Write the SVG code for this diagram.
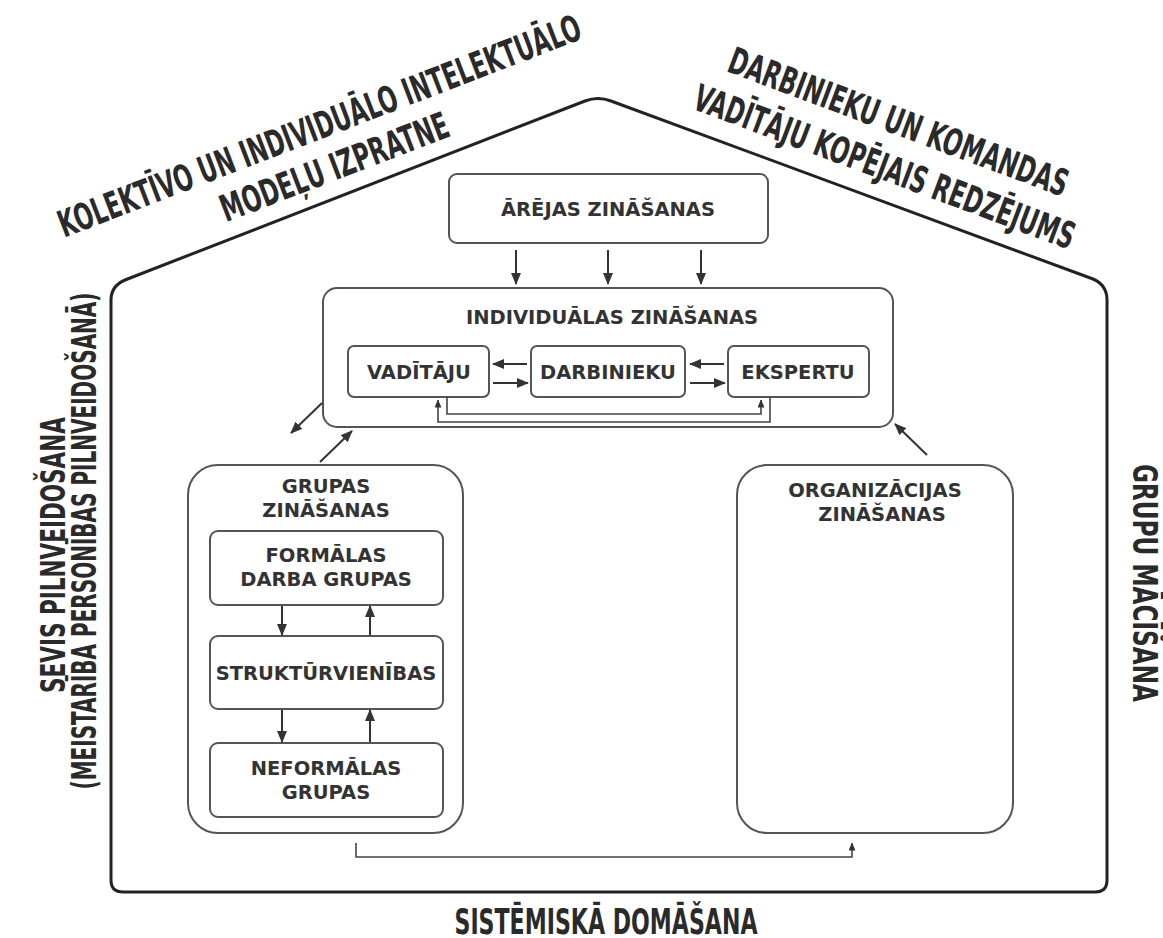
<svg xmlns="http://www.w3.org/2000/svg" width="1163" height="938" viewBox="0 0 1163 938">
<defs>
<marker id="ah" markerWidth="12" markerHeight="10" refX="11" refY="5" orient="auto" markerUnits="userSpaceOnUse"><path d="M0,0 L12,5 L0,10 Z" fill="#333"/></marker>
<marker id="ahs" markerWidth="8" markerHeight="7" refX="7.5" refY="3.5" orient="auto" markerUnits="userSpaceOnUse"><path d="M0,0 L8,3.5 L0,7 Z" fill="#333"/></marker>
<style>
.box{fill:#fff;stroke:#555;stroke-width:2}
.lbl{font-family:"DejaVu Sans",Verdana,sans-serif;font-weight:bold;font-size:19.5px;fill:#333;text-anchor:middle}
.big{font-family:"Liberation Sans Narrow","DejaVu Sans Condensed","Liberation Sans",sans-serif;font-weight:bold;font-size:37px;fill:#2a2a2a;text-anchor:middle}
.side{font-size:33px}
.c{fill:none;stroke:#333;stroke-width:2}
.cs{fill:none;stroke:#444;stroke-width:1.6}
</style>
</defs>
<rect width="1163" height="938" fill="#fff"/>

<g id="house">
<path d="M111,300 L111,880 Q111,892 123,892 L1095,892 Q1107,892 1107,880 L1107,300 Q1107,285 1093,279 L611,101 Q598,96 585,101 L125,280 Q111,286 111,300 Z" fill="none" stroke="#222" stroke-width="3"/>
</g>

<g id="roof-labels">
<text class="big" transform="translate(324,138) rotate(-21)" textLength="557" lengthAdjust="spacingAndGlyphs">KOLEKTĪVO UN INDIVIDUĀLO INTELEKTUĀLO</text>
<text class="big" transform="translate(339,179) rotate(-21)" textLength="242" lengthAdjust="spacingAndGlyphs">MODEĻU IZPRATNE</text>
<text class="big" transform="translate(894,134) rotate(20.5)" textLength="360" lengthAdjust="spacingAndGlyphs">DARBINIEKU UN KOMANDAS</text>
<text class="big" transform="translate(880,179) rotate(20.5)" textLength="404" lengthAdjust="spacingAndGlyphs">VADĪTĀJU KOPĒJAIS REDZĒJUMS</text>
</g>

<g id="side-labels">
<text class="big side" transform="translate(65,555) rotate(-90)" textLength="276" lengthAdjust="spacingAndGlyphs">SEVIS PILNVEIDOŠANA</text>
<text class="big side" transform="translate(96,541) rotate(-90)" textLength="497" lengthAdjust="spacingAndGlyphs">(MEISTARĪBA PERSONĪBAS PILNVEIDOŠANĀ)</text>
<text class="big side" transform="translate(1133,583) rotate(90)" textLength="238" lengthAdjust="spacingAndGlyphs">GRUPU MĀCĪŠANA</text>
<text class="big" style="font-size:35px" x="606" y="934" textLength="303" lengthAdjust="spacingAndGlyphs">SISTĒMISKĀ DOMĀŠANA</text>
</g>

<g id="arejas">
<rect class="box" x="449" y="174" width="319" height="69" rx="8"/>
<text class="lbl" x="608" y="216">ĀRĒJAS ZINĀŠANAS</text>
</g>

<g id="individualas">
<rect class="box" x="323" y="288" width="570" height="139" rx="14"/>
<text class="lbl" x="612" y="324">INDIVIDUĀLAS ZINĀŠANAS</text>
</g>
<g id="vaditaju">
<rect class="box" x="348" y="346" width="141" height="51" rx="6"/>
<text class="lbl" x="419" y="379">VADĪTĀJU</text>
</g>
<g id="darbinieku">
<rect class="box" x="531" y="346" width="154" height="51" rx="6"/>
<text class="lbl" x="608" y="379">DARBINIEKU</text>
</g>
<g id="ekspertu">
<rect class="box" x="728" y="346" width="141" height="51" rx="6"/>
<text class="lbl" x="798" y="379">EKSPERTU</text>
</g>

<g id="grupas">
<rect class="box" x="188" y="465" width="275" height="368" rx="30"/>
<text class="lbl" x="326" y="493">GRUPAS</text>
<text class="lbl" x="326" y="517">ZINĀŠANAS</text>
</g>
<g id="formalas">
<rect class="box" x="210" y="531" width="233" height="74" rx="8"/>
<text class="lbl" x="326" y="562">FORMĀLAS</text>
<text class="lbl" x="326" y="586">DARBA GRUPAS</text>
</g>
<g id="strukturvienibas">
<rect class="box" x="210" y="636" width="233" height="73" rx="8"/>
<text class="lbl" x="326" y="680">STRUKTŪRVIENĪBAS</text>
</g>
<g id="neformalas">
<rect class="box" x="210" y="743" width="233" height="74" rx="8"/>
<text class="lbl" x="326" y="775">NEFORMĀLAS</text>
<text class="lbl" x="326" y="799">GRUPAS</text>
</g>

<g id="organizacijas">
<rect class="box" x="737" y="465" width="276" height="368" rx="30"/>
<text class="lbl" x="875" y="497">ORGANIZĀCIJAS</text>
<text class="lbl" x="882" y="521">ZINĀŠANAS</text>
</g>

<g id="connectors">
<line class="c" x1="516" y1="250" x2="516" y2="284" marker-end="url(#ah)"/>
<line class="c" x1="608" y1="250" x2="608" y2="284" marker-end="url(#ah)"/>
<line class="c" x1="701" y1="250" x2="701" y2="284" marker-end="url(#ah)"/>

<line class="c" x1="527" y1="364" x2="493" y2="364" marker-end="url(#ah)"/>
<line class="c" x1="493" y1="383" x2="528" y2="383" marker-end="url(#ah)"/>
<line class="c" x1="724" y1="364" x2="690" y2="364" marker-end="url(#ah)"/>
<line class="c" x1="690" y1="383" x2="725" y2="383" marker-end="url(#ah)"/>

<path class="cs" d="M447,397 V414 H761 V400" marker-end="url(#ahs)"/>
<path class="cs" d="M770,397 V422 H438 V400" marker-end="url(#ahs)"/>

<line class="c" x1="322" y1="403" x2="291" y2="433" marker-end="url(#ah)"/>
<line class="c" x1="320" y1="462" x2="352" y2="431" marker-end="url(#ah)"/>
<line class="c" x1="927" y1="455" x2="895" y2="424" marker-end="url(#ah)"/>

<line class="c" x1="282" y1="606" x2="282" y2="635" marker-end="url(#ah)"/>
<line class="c" x1="370" y1="635" x2="370" y2="606" marker-end="url(#ah)"/>
<line class="c" x1="282" y1="710" x2="282" y2="742" marker-end="url(#ah)"/>
<line class="c" x1="370" y1="742" x2="370" y2="710" marker-end="url(#ah)"/>

<path class="cs" d="M356,843 V857 H852 V843" marker-end="url(#ahs)"/>
</g>
</svg>
